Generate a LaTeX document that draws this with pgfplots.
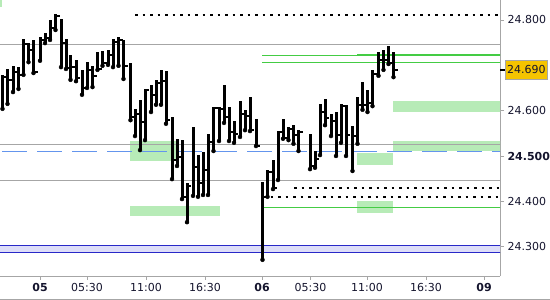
\documentclass[border=0pt]{standalone}
\usepackage{pgfplots}
\pgfplotsset{compat=1.18}
\usepackage{pgfplotstable}
\usepackage{fontspec}
\setmainfont{DejaVu Sans}
\definecolor{zone}{RGB}{183,235,183}
\definecolor{gline}{RGB}{68,204,68}
\definecolor{gridc}{RGB}{166,166,166}
\definecolor{bdash}{RGB}{100,149,237}
\definecolor{band}{RGB}{221,221,248}
\definecolor{bline}{RGB}{40,40,200}
\definecolor{txt}{RGB}{20,20,45}
\definecolor{gold}{RGB}{245,196,0}

\pgfplotstableread{
x H L C
2.5 24.679 24.604 24.674
7.5 24.692 24.615 24.668
13 24.699 24.641 24.685
18.5 24.696 24.648 24.679
23.5 24.758 24.679 24.747
28.5 24.749 24.707 24.734
33.5 24.756 24.683 24.685
40 24.763 24.710 24.756
45 24.771 24.749 24.760
50 24.800 24.756 24.782
55.5 24.813 24.778 24.809
61 24.802 24.696 24.749
66 24.758 24.692 24.694
70.5 24.723 24.668 24.696
76 24.712 24.665 24.672
82 24.690 24.635 24.650
87 24.707 24.650 24.690
92.5 24.699 24.652 24.677
97.5 24.729 24.690 24.692
102.5 24.732 24.699 24.705
108 24.734 24.701 24.723
113 24.758 24.696 24.752
118.5 24.763 24.699 24.756
123.5 24.756 24.670 24.699
130.5 24.705 24.579 24.586
135 24.604 24.544 24.593
140 24.624 24.513 24.575
145 24.648 24.535 24.646
151 24.657 24.597 24.635
156 24.668 24.613 24.661
161 24.690 24.613 24.665
166 24.688 24.571 24.579
172 24.586 24.449 24.491
177 24.538 24.478 24.498
182 24.535 24.405 24.410
187 24.440 24.354 24.434
193 24.564 24.412 24.476
198 24.502 24.410 24.440
203 24.509 24.414 24.469
208 24.549 24.414 24.531
213.5 24.608 24.511 24.606
219 24.608 24.533 24.604
224 24.657 24.573 24.586
229 24.608 24.533 24.553
234 24.577 24.529 24.549
240 24.621 24.542 24.593
245 24.602 24.557 24.588
250 24.630 24.555 24.557
256 24.582 24.522 24.522
262.5 24.443 24.271 24.410
267.5 24.469 24.410 24.465
273 24.491 24.427 24.429
278 24.555 24.447 24.553
283 24.582 24.538 24.540
288.5 24.564 24.535 24.560
293.5 24.568 24.527 24.546
298.5 24.557 24.511 24.553
310 24.549 24.471 24.478
315 24.511 24.474 24.493
320 24.615 24.502 24.597
325 24.626 24.568 24.584
331 24.593 24.544 24.577
336 24.597 24.500 24.546
341 24.615 24.529 24.610
346 24.613 24.500 24.546
352.5 24.566 24.467 24.544
357.5 24.630 24.527 24.613
362.5 24.663 24.602 24.613
367.5 24.646 24.597 24.617
372.5 24.690 24.610 24.681
378.5 24.729 24.677 24.712
383.5 24.734 24.690 24.712
388.5 24.743 24.703 24.705
393.5 24.729 24.674 24.690
}\bars

\pgfdeclareplotmark{closetick}{%
  \pgfpathmoveto{\pgfqpoint{1.5bp}{0pt}}%
  \pgfpathlineto{\pgfqpoint{4bp}{0pt}}%
  \pgfusepathqstroke}

\begin{document}
\begin{tikzpicture}
\useasboundingbox (0,0) rectangle (550bp,300bp);
\begin{axis}[
  at={(0bp,24bp)}, anchor=south west,
  width=500bp, height=276bp, scale only axis,
  xmin=0, xmax=500, ymin=24.2353, ymax=24.8441,
  axis x line*=bottom, axis y line*=right,
  axis line style={gridc, line width=1bp},
  xtick={40,87,146,205,262,310.5,367,426,484},
  xticklabels={\textbf{05},05:30,11:00,16:30,\textbf{06},05:30,11:00,16:30,\textbf{09}},
  ytick={24.3,24.4,24.5,24.6,24.8},
  yticklabels={24.300,24.400,\textbf{24.500},24.600,24.800},
  tick align=outside, major tick length=4bp,
  tick style={gridc, line width=0.8bp},
  ticklabel style={font=\fontsize{11bp}{13bp}\selectfont, text=txt},
  clip=true,
]
% zones
\addplot[fill=zone, draw=none] coordinates {(-1,24.829)(2,24.829)(2,24.86)(-1,24.86)} --cycle;
\addplot[fill=zone, draw=none] coordinates {(393,24.598)(501,24.598)(501,24.621)(393,24.621)} --cycle;
\addplot[fill=zone, draw=none] coordinates {(393,24.510)(501,24.510)(501,24.533)(393,24.533)} --cycle;
\addplot[fill=zone, draw=none] coordinates {(357,24.480)(393,24.480)(393,24.506)(357,24.506)} --cycle;
\addplot[fill=zone, draw=none] coordinates {(130,24.490)(178,24.490)(178,24.533)(130,24.533)} --cycle;
\addplot[fill=zone, draw=none] coordinates {(130,24.368)(220,24.368)(220,24.390)(130,24.390)} --cycle;
\addplot[fill=zone, draw=none] coordinates {(357,24.375)(393,24.375)(393,24.401)(357,24.401)} --cycle;
\addplot[fill=band, draw=none] coordinates {(-1,24.288)(501,24.288)(501,24.303)(-1,24.303)} --cycle;
% level lines
\addplot[bline, line width=1bp] coordinates {(-1,24.288)(501,24.288)};
\addplot[bline, line width=1bp] coordinates {(-1,24.303)(501,24.303)};
\addplot[gridc, line width=1bp] coordinates {(-1,24.745)(501,24.745)};
\addplot[gridc, line width=1bp] coordinates {(-1,24.526)(501,24.526)};
\addplot[gridc, line width=1bp] coordinates {(-1,24.445)(501,24.445)};
\addplot[bdash, line width=1bp, dash pattern=on 25bp off 10bp] coordinates {(2,24.511)(501,24.511)};
\addplot[gline, line width=1bp] coordinates {(357,24.724)(501,24.724)};
\addplot[gline, line width=1bp] coordinates {(262,24.721)(501,24.721)};
\addplot[gline, line width=1bp] coordinates {(262,24.707)(501,24.707)};
\addplot[gline, line width=1bp] coordinates {(262,24.387)(501,24.387)};
\addplot[black, line width=2bp, dash pattern=on 2.5bp off 5bp] coordinates {(135,24.810)(500,24.810)};
\addplot[black, line width=2bp, dash pattern=on 2.5bp off 5bp] coordinates {(294,24.429)(500,24.429)};
\addplot[black, line width=2bp, dash pattern=on 2.5bp off 5bp] coordinates {(263,24.410)(500,24.410)};
% OHLC bars
\addplot[only marks, mark=none, black, forget plot,
  error bars/.cd, y dir=plus, y explicit, error mark=none,
  error bar style={line width=3bp, black}]
  table[x=x, y=L, y error expr=\thisrow{H}-\thisrow{L}] {\bars};
\addplot[only marks, mark=closetick, mark options={line width=2bp, black}]
  table[x=x, y=C] {\bars};
\coordinate (cp) at (axis cs:500,24.69);
\end{axis}
\draw[black, line width=1.5bp] (cp) -- ++(5bp,0);
\node[anchor=west, fill=gold, draw=gridc, inner xsep=2bp, inner ysep=0pt,
  minimum height=19bp, font=\fontsize{11bp}{13bp}\selectfont, text=txt]
  at ([xshift=5bp]cp) {24.690};
\draw[gridc, line width=1bp] (0,0.5bp) -- (550bp,0.5bp);
\end{tikzpicture}
\end{document}
